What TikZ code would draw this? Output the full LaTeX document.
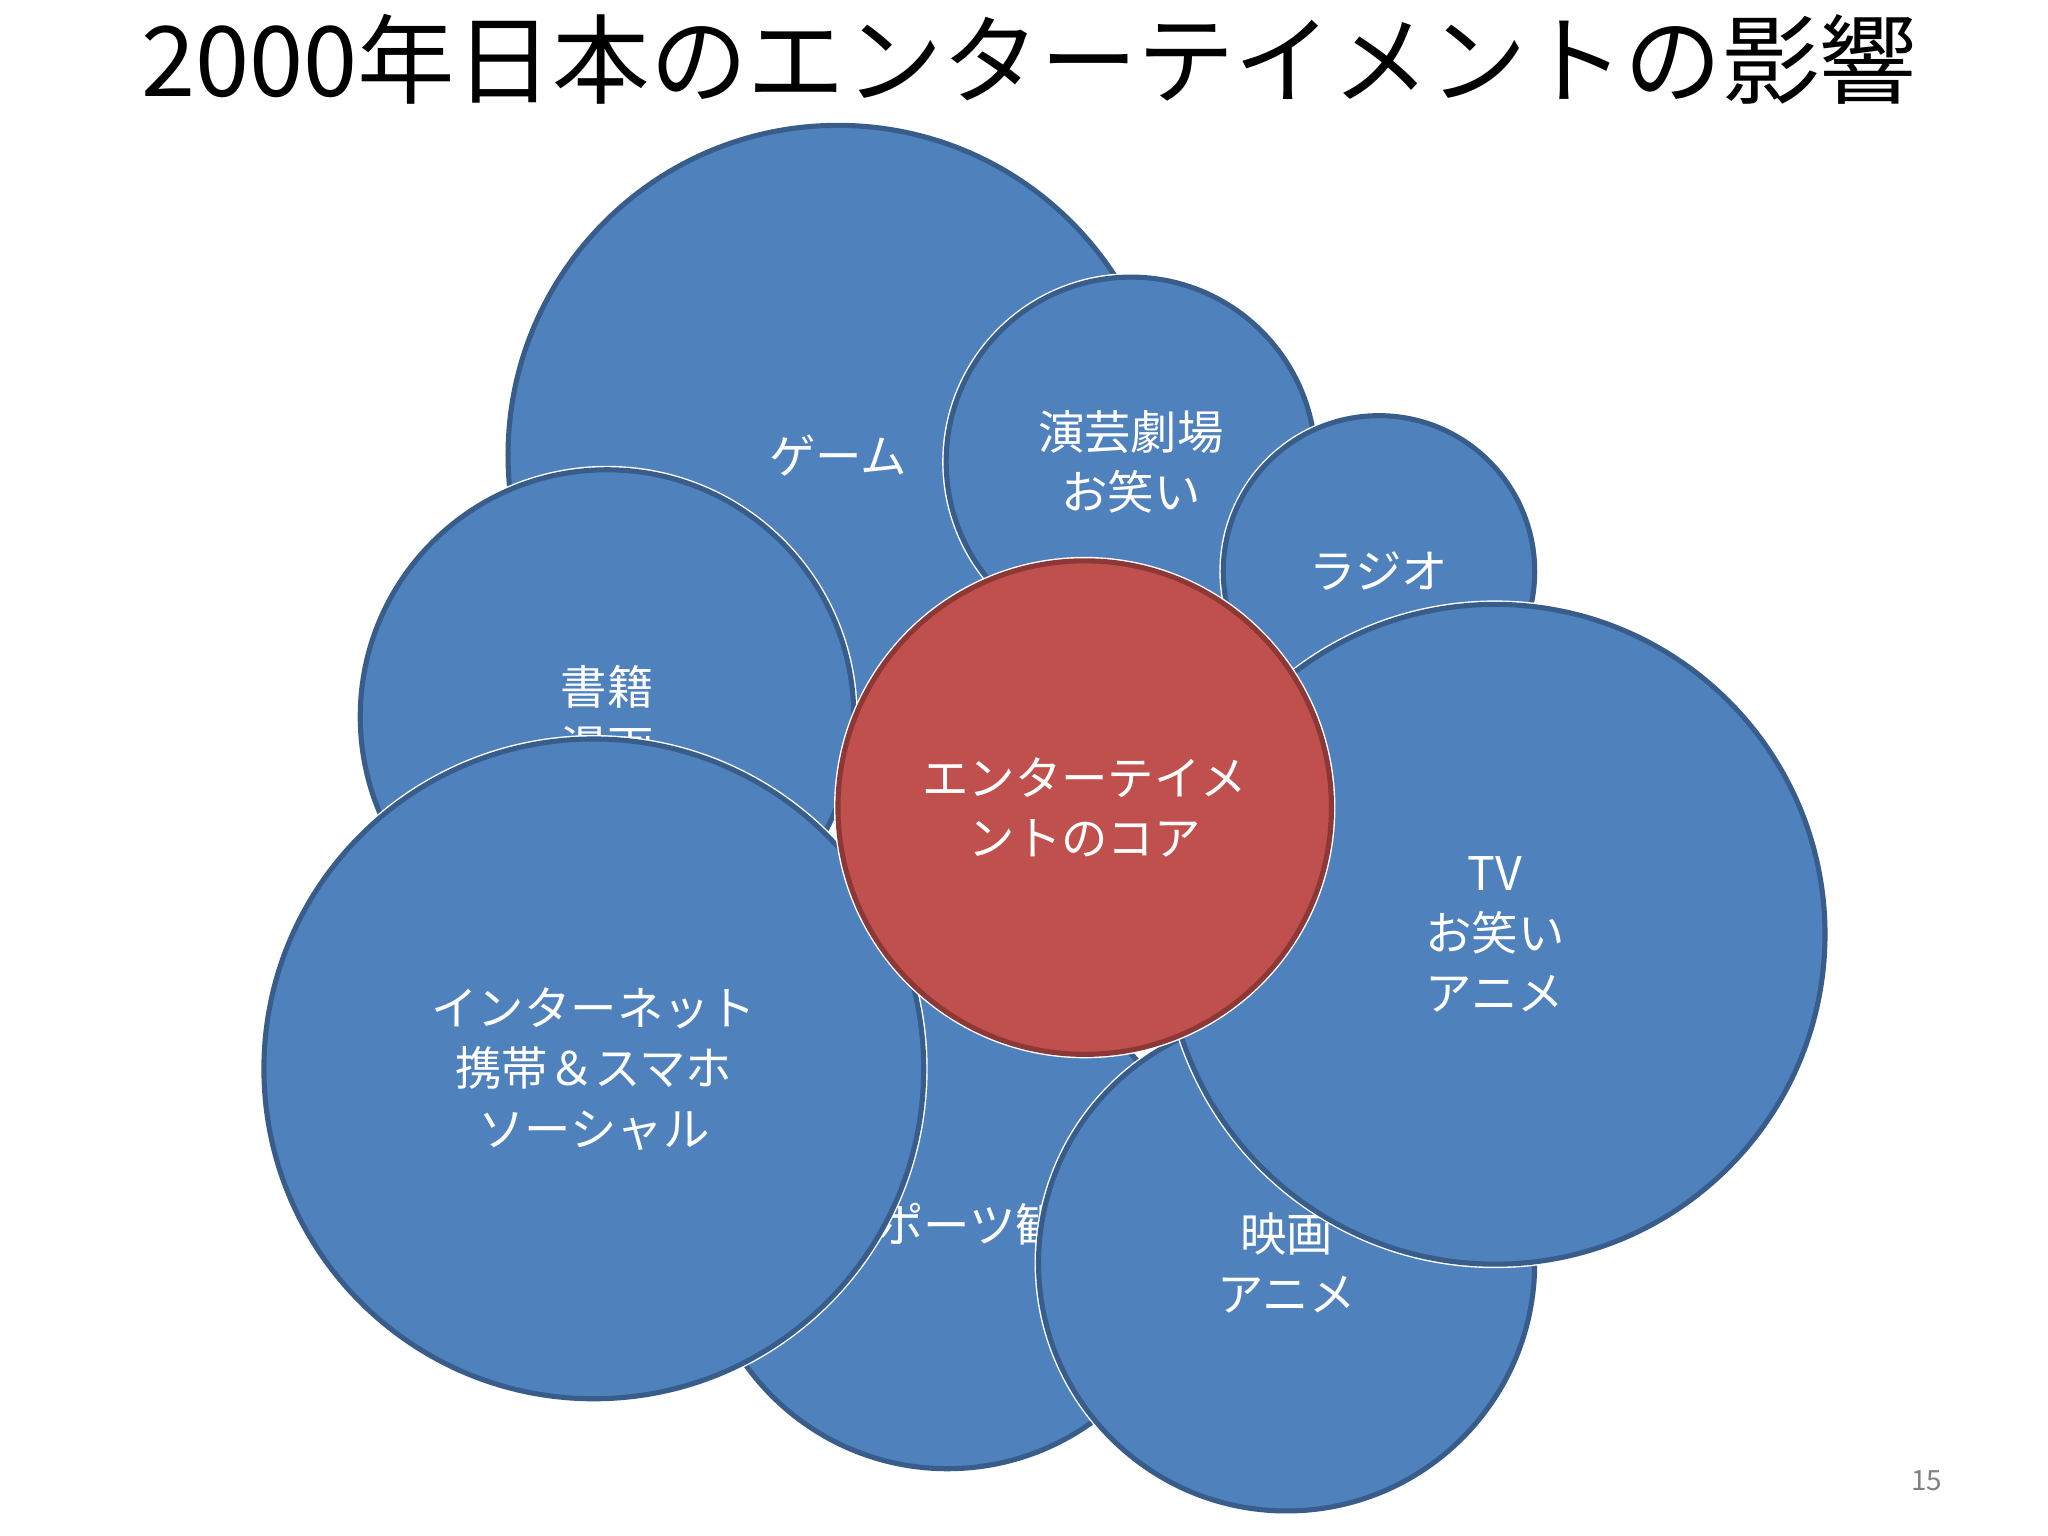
\documentclass[tikz,border=0pt]{standalone}
\usepackage{fontspec}
\setmainfont{Noto Sans CJK JP}
\begin{document}
\begin{tikzpicture}[x=0.01cm,y=-0.01cm,
  bub/.style={draw=white,line width=2.2pt,fill=blue!0},
  blue/.style={fill={rgb,255:red,79;green,129;blue,189},draw={rgb,255:red,56;green,93;blue,138},line width=1.1pt},
  red/.style={fill={rgb,255:red,192;green,80;blue,77},draw={rgb,255:red,140;green,56;blue,54},line width=1.1pt},
  lab/.style={text=white,font=\fontsize{10}{13}\selectfont,align=center}]
\useasboundingbox (0,0) rectangle (1552,1164);
\node[font=\fontsize{21}{24}\selectfont] (title) at (780,45) {2000年日本のエンターテイメントの影響};
\newcommand{\bubble}[5]{%
  \fill[white] (#1,#2) circle ({#3+3});
  \draw[#4] (#1,#2) circle (#3);
  \node[lab] at (#1,#2) {#5};}
\bubble{635}{345}{250}{blue}{ゲーム}
\bubble{857}{350}{140}{blue}{演芸劇場\\お笑い}
\bubble{1045}{433}{118}{blue}{ラジオ}
\bubble{460}{543}{187}{blue}{書籍\\漫画}
\draw[blue] (718,925) circle (188);
\node[lab] (sp) at (735,928) {スポーツ観戦};
\bubble{975}{957}{188}{blue}{映画\\アニメ}
\bubble{1133}{708}{250}{blue}{TV\\お笑い\\アニメ}
\bubble{450}{810}{250}{blue}{インターネット\\携帯＆スマホ\\ソーシャル}
\bubble{822}{612}{187}{red}{エンターテイメ\\ントのコア}
\node[text=gray,font=\fontsize{6}{7}\selectfont] (pg) at (1460,1122) {15};
\end{tikzpicture}
\end{document}
